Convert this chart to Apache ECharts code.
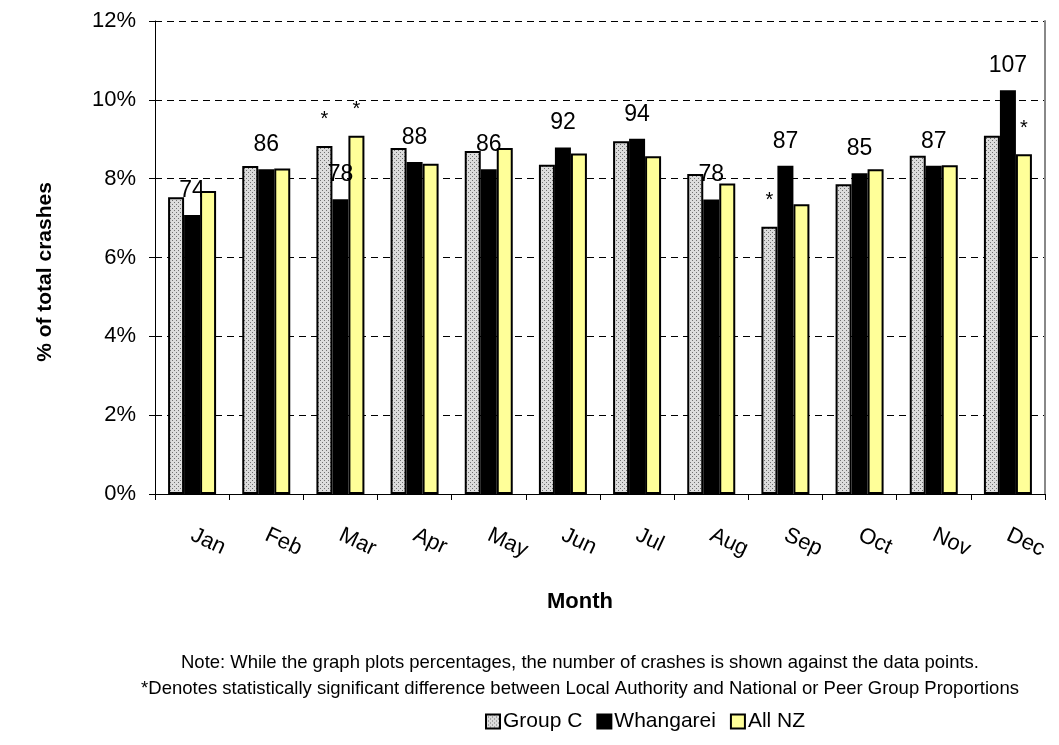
<!DOCTYPE html>
<html>
<head>
<meta charset="utf-8">
<script src="https://cdn.jsdelivr.net/npm/echarts@6/dist/echarts.min.js"></script>
<style>
  html, body { margin: 0; padding: 0; background: #fff; }
  #chart { width: 1059px; height: 745px; }
</style>
</head>
<body>
<div id="chart"></div>
<script>
// Monthly crash share — Group C vs Whangarei vs All NZ

const months = ['Jan', 'Feb', 'Mar', 'Apr', 'May', 'Jun', 'Jul', 'Aug', 'Sep', 'Oct', 'Nov', 'Dec'];
const groupC = [7.53, 8.32, 8.83, 8.78, 8.70, 8.35, 8.95, 8.12, 6.78, 7.86, 8.58, 9.09];
const whangarei = [7.08, 8.24, 7.48, 8.42, 8.24, 8.79, 9.01, 7.47, 8.33, 8.14, 8.33, 10.24];
const allNZ = [7.69, 8.26, 9.09, 8.38, 8.78, 8.64, 8.57, 7.88, 7.35, 8.24, 8.34, 8.62];
const counts = [74, 86, 78, 88, 86, 92, 94, 78, 87, 85, 87, 107];
// significance markers (*)
const sigGroupC = [false, false, true, false, false, false, false, false, true, false, false, false];
const sigAllNZ = [false, false, true, false, false, false, false, false, false, false, false, true];
const yTicks = [0, 2, 4, 6, 8, 10, 12];

const FONT = '"Liberation Sans", Arial, sans-serif';

function dotPattern() {
  const c = document.createElement('canvas');
  c.width = 4; c.height = 4;
  const g = c.getContext('2d');
  g.fillStyle = '#dcdcdc';
  g.fillRect(0, 0, 4, 4);
  g.fillStyle = '#707070';
  g.fillRect(0, 0, 1, 1);
  g.fillRect(2, 2, 1, 1);
  return c;
}

function starred(vals, flags) {
  return vals.map((v, i) => flags[i] ? {
    value: v,
    label: { show: true, position: 'top', formatter: '*', fontSize: 20, color: '#000', fontFamily: FONT, distance: 16 },
  } : v);
}

const chart = echarts.init(document.getElementById('chart'));

const barBase = {
  type: 'bar', barWidth: 16, barGap: '0%',
  emphasis: { disabled: true },
};

chart.setOption({
  animation: false,
  textStyle: { fontFamily: FONT },
  grid: { left: 155, right: 14, top: 21, bottom: 251 },
  legend: {
    top: 706, left: 480,
    itemWidth: 14, itemHeight: 14, itemGap: 14,
    icon: 'rect',
    textStyle: { fontSize: 21, color: '#000', fontFamily: FONT, padding: [0, 0, 0, -2] },
    data: ['Group C', 'Whangarei', 'All NZ'],
  },
  xAxis: {
    type: 'category', data: months,
    axisLine: { lineStyle: { color: '#000', width: 1 } },
    axisTick: { show: true, length: 6, lineStyle: { color: '#000' } },
    axisLabel: {
      rotate: -25, margin: 40,
      fontSize: 22, color: '#000', fontFamily: FONT,
    },
  },
  yAxis: [{
    type: 'value', min: 0, max: 12, interval: 2,
    axisLine: { show: true, lineStyle: { color: '#000' } },
    axisTick: { show: true, length: 6, lineStyle: { color: '#000' } },
    axisLabel: { formatter: v => yTicks.includes(v) ? v + '%' : '', fontSize: 22, color: '#000', margin: 19, fontFamily: FONT },
    splitLine: { show: true, lineStyle: { color: '#000', type: [7, 5], width: 1 } },
  }, {
    type: 'value', min: 0, max: 12, interval: 2, position: 'right',
    axisLine: { show: true, lineStyle: { color: '#888', width: 2 } },
    axisTick: { show: false }, axisLabel: { show: false }, splitLine: { show: false },
  }],
  series: [
    Object.assign({}, barBase, {
      name: 'Group C',
      itemStyle: { color: { image: dotPattern(), repeat: 'repeat' }, borderColor: '#000', borderWidth: 2 },
      data: starred(groupC, sigGroupC),
    }),
    Object.assign({}, barBase, {
      name: 'Whangarei',
      itemStyle: { color: '#000', borderColor: '#000', borderWidth: 2 },
      label: {
        show: true, position: 'top', distance: 13,
        fontSize: 23, color: '#000', fontFamily: FONT,
        formatter: p => counts[p.dataIndex],
      },
      data: whangarei,
    }),
    Object.assign({}, barBase, {
      name: 'All NZ',
      itemStyle: { color: '#ffff99', borderColor: '#000', borderWidth: 2 },
      data: starred(allNZ, sigAllNZ),
    }),
  ],
  graphic: [
    { type: 'text', x: 45, y: 272, rotation: Math.PI / 2, style: { text: '% of total crashes', fontSize: 21, fontWeight: 'bold', fill: '#000', align: 'center', verticalAlign: 'middle', fontFamily: FONT } },
    { type: 'text', x: 580, y: 602, style: { text: 'Month', fontSize: 22, fontWeight: 'bold', fill: '#000', align: 'center', verticalAlign: 'middle', fontFamily: FONT } },
    { type: 'text', x: 580, y: 663, style: { text: 'Note: While the graph plots percentages, the number of crashes is shown against the data points.', fontSize: 18.5, fill: '#000', align: 'center', verticalAlign: 'middle', fontFamily: FONT } },
    { type: 'text', x: 580, y: 689, style: { text: '*Denotes statistically significant difference between Local Authority and National or Peer Group Proportions', fontSize: 18.5, fill: '#000', align: 'center', verticalAlign: 'middle', fontFamily: FONT } },
  ],
});
</script>
</body>
</html>
